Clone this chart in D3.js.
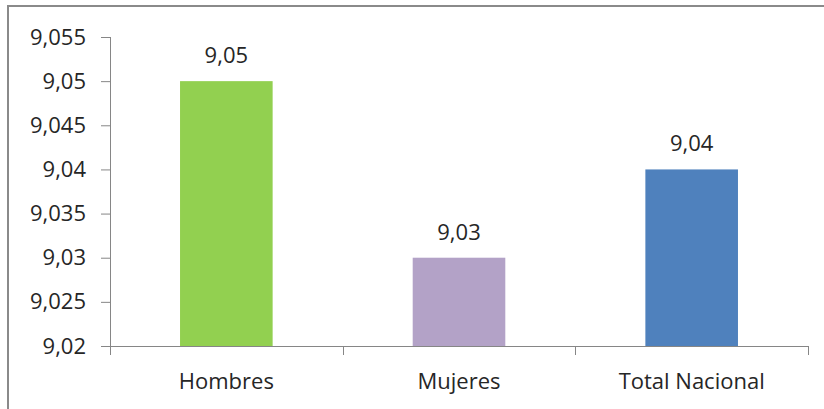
<!DOCTYPE html>
<html>
<head>
<meta charset="utf-8">
<script src="https://cdn.jsdelivr.net/npm/d3@7"></script>
<style>
  html, body { margin: 0; padding: 0; background: #fff; }
  svg { display: block; }
  text { font-family: "Open Sans", "Noto Sans", sans-serif; fill: #262626; }
</style>
</head>
<body>
<div id="chart"></div>
<script>
// chart data
const categories = ['Hombres', 'Mujeres', 'Total Nacional'];
const values = [9.05, 9.03, 9.04];
const valueLabels = ['9,05', '9,03', '9,04'];
const barColors = ['#92d050', '#b3a2c7', '#4f81bd'];
const yTicks = [9.02, 9.025, 9.03, 9.035, 9.04, 9.045, 9.05, 9.055];
const yTickLabels = ['9,02', '9,025', '9,03', '9,035', '9,04', '9,045', '9,05', '9,055'];

const width = 824;
const height = 409;
const margin = { top: 37, right: 16, bottom: 63, left: 110 };
const axisColor = '#868686';

const svg = d3.select('#chart').append('svg')
  .attr('width', width).attr('height', height);

// outer chart frame (only left/top edges are in view)
svg.append('rect').attr('x', 8).attr('y', 6).attr('width', width + 20).attr('height', height + 20)
  .attr('fill', 'none').attr('stroke', '#8a8a8a').attr('stroke-width', 2);

const x = d3.scaleBand().domain(categories).range([margin.left, width - margin.right]).padding(0);
const y = d3.scaleLinear().domain([9.02, 9.055]).range([height - margin.bottom, margin.top]);

// y axis
const yAxis = svg.append('g').attr('transform', `translate(${margin.left},0)`)
  .call(d3.axisLeft(y).tickValues(yTicks).tickSize(9).tickPadding(15)
    .tickFormat((d, i) => yTickLabels[i]));
yAxis.selectAll('path, line').attr('stroke', axisColor);
yAxis.select('.domain').attr('d', `M0.5,${y(9.055)}V${y(9.02)}`);
yAxis.selectAll('text').attr('font-size', 22).attr('fill', '#262626')
  .attr('font-family', '"Open Sans", sans-serif');

// bars
const barW = x.bandwidth() * 0.398;
svg.append('g').selectAll('rect').data(categories).join('rect')
  .attr('x', (d) => x(d) + (x.bandwidth() - barW) / 2)
  .attr('y', (d, i) => y(values[i]))
  .attr('width', barW)
  .attr('height', (d, i) => y(9.02) - y(values[i]))
  .attr('fill', (d, i) => barColors[i]);

// value labels
svg.append('g').selectAll('text').data(categories).join('text')
  .attr('x', (d) => x(d) + x.bandwidth() / 2)
  .attr('y', (d, i) => y(values[i]) - 18)
  .attr('text-anchor', 'middle').attr('font-size', 22)
  .text((d, i) => valueLabels[i]);

// x axis: baseline with ticks at category boundaries
const x0 = y(9.02);
const xAxis = svg.append('g');
xAxis.append('line').attr('x1', margin.left).attr('x2', width - margin.right)
  .attr('y1', x0 + 0.5).attr('y2', x0 + 0.5).attr('stroke', axisColor);
const bounds = [...categories.map((c) => x(c)), x(categories[categories.length - 1]) + x.bandwidth()];
xAxis.selectAll('line.tick').data(bounds).join('line').attr('class', 'tick')
  .attr('x1', (d) => Math.round(d) + 0.5).attr('x2', (d) => Math.round(d) + 0.5)
  .attr('y1', x0).attr('y2', x0 + 9).attr('stroke', axisColor);
xAxis.selectAll('text').data(categories).join('text')
  .attr('x', (d) => x(d) + x.bandwidth() / 2)
  .attr('y', x0 + 43)
  .attr('text-anchor', 'middle').attr('font-size', 22)
  .text((d) => d);
</script>
</body>
</html>
